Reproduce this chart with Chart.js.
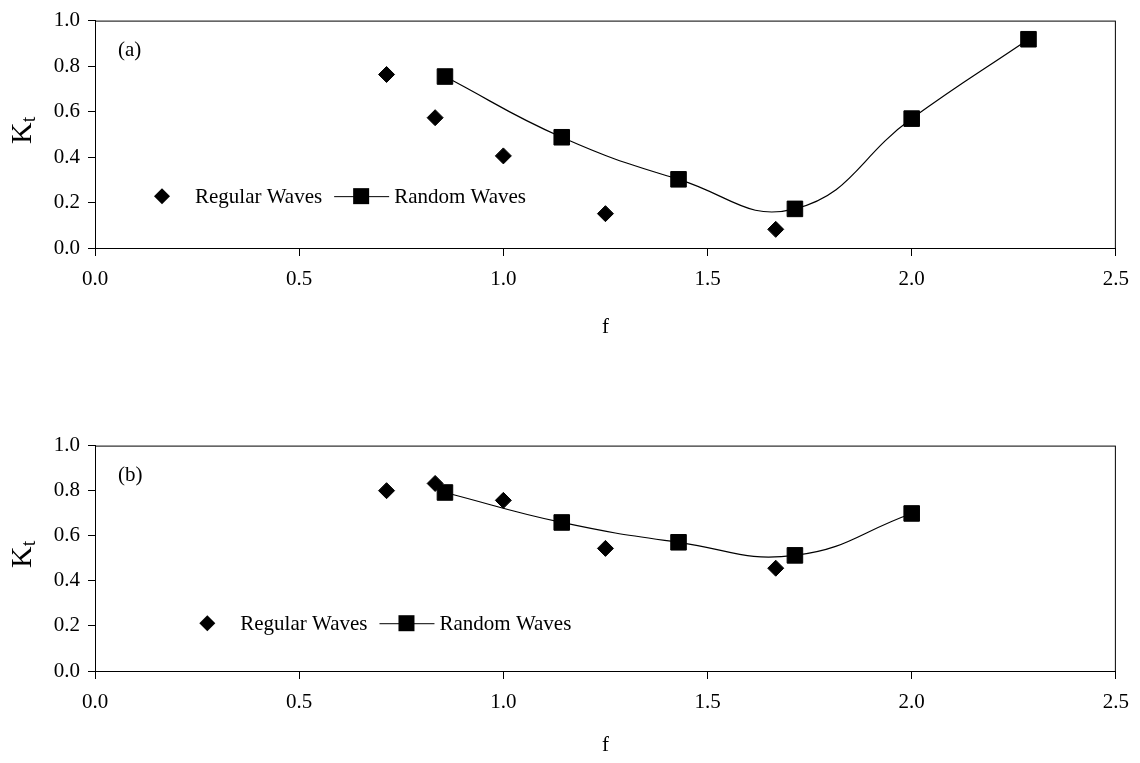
<!DOCTYPE html>
<html>
<head>
<meta charset="utf-8">
<script src="https://cdn.jsdelivr.net/npm/chart.js@4.4.1/dist/chart.umd.min.js"></script>
<style>
  html, body { margin: 0; padding: 0; background: #fff; }
  body { width: 1140px; height: 763px; position: relative; overflow: hidden; }
  .box { position: absolute; left: 0; width: 1140px; }
</style>
</head>
<body>
<div class="box" style="top:0;height:345px"><canvas id="chartA"></canvas></div>
<div class="box" style="top:425px;height:338px"><canvas id="chartB"></canvas></div>
<script>
// axis ticks
const xTicks = [0.0, 0.5, 1.0, 1.5, 2.0, 2.5];
const yTicks = [0.0, 0.2, 0.4, 0.6, 0.8, 1.0];

// panel (a)
const regularF_a = [0.714, 0.833, 1.0, 1.25, 1.667];
const regularKt_a = [0.763, 0.573, 0.405, 0.151, 0.082];
const randomF_a = [0.857, 1.143, 1.429, 1.714, 2.0, 2.286];
const randomKt_a = [0.754, 0.487, 0.302, 0.172, 0.569, 0.918];

// panel (b)
const regularF_b = [0.714, 0.833, 1.0, 1.25, 1.667];
const regularKt_b = [0.800, 0.832, 0.757, 0.544, 0.456];
const randomF_b = [0.857, 1.143, 1.429, 1.714, 2.0];
const randomKt_b = [0.792, 0.659, 0.571, 0.513, 0.699];

const SERIF = '"Liberation Serif", "Times New Roman", serif';

function pts(xs, ys) {
  return xs.map((x, i) => ({ x: x, y: ys[i] }));
}

function diamond(ctx, x, y, r) {
  ctx.beginPath();
  ctx.moveTo(x - r, y);
  ctx.lineTo(x, y - r);
  ctx.lineTo(x + r, y);
  ctx.lineTo(x, y + r);
  ctx.closePath();
  ctx.fill();
}

// frame, panel letter, K_t title and legend
const extras = {
  id: 'extras',
  afterDraw(chart, args, opts) {
    const ctx = chart.ctx;
    const a = chart.chartArea;
    const sx = chart.scales.x, sy = chart.scales.y;
    ctx.save();
    ctx.strokeStyle = '#000';
    ctx.lineWidth = 1;
    ctx.strokeRect(a.left + 0.5, a.top + 0.5, a.right - a.left - 1, a.bottom - a.top);

    ctx.fillStyle = '#000';
    ctx.textBaseline = 'middle';
    ctx.textAlign = 'left';
    ctx.font = '21px ' + SERIF;
    ctx.fillText(opts.panel, a.left + 23, a.top + 30);

    // y title K_t
    ctx.save();
    ctx.translate(23, (a.top + a.bottom) / 2 - 4);
    ctx.rotate(-Math.PI / 2);
    ctx.font = '30px ' + SERIF;
    const kw = ctx.measureText('K').width;
    ctx.font = '20px ' + SERIF;
    const tw = ctx.measureText('t').width;
    const x0 = -(kw + tw) / 2;
    ctx.font = '30px ' + SERIF;
    ctx.fillText('K', x0, 0);
    ctx.font = '20px ' + SERIF;
    ctx.fillText('t', x0 + kw, 7);
    ctx.restore();

    // legend
    const lx = sx.getPixelForValue(opts.legendAt[0]);
    const ly = sy.getPixelForValue(opts.legendAt[1]);
    diamond(ctx, lx, ly, 8);
    ctx.font = '21px ' + SERIF;
    const t1 = 'Regular Waves';
    ctx.fillText(t1, lx + 33, ly + 1);
    const l0 = lx + 33 + ctx.measureText(t1).width + 12;
    const sq = l0 + 27;
    const l1 = sq + 28;
    ctx.beginPath();
    ctx.moveTo(l0, ly + 0.5);
    ctx.lineTo(l1, ly + 0.5);
    ctx.stroke();
    ctx.fillRect(sq - 8, ly - 8, 16, 16);
    ctx.fillText('Random Waves', l1 + 5, ly + 1);
    ctx.restore();
  }
};

function makeChart(id, regF, regK, ranF, ranK, panel, legendAt, padTop, xAxisH) {
  const c = document.getElementById(id).getContext('2d');
  return new Chart(c, {
    type: 'scatter',
    data: {
      datasets: [{
        label: 'Regular Waves',
        data: pts(regF, regK),
        showLine: false,
        pointStyle: 'rectRot',
        pointRadius: 8,
        pointHoverRadius: 8,
        backgroundColor: '#000',
        borderColor: '#000',
        borderWidth: 1
      }, {
        label: 'Random Waves',
        data: pts(ranF, ranK),
        showLine: true,
        tension: 0.45,
        borderColor: '#000',
        borderWidth: 1.2,
        pointStyle: 'rect',
        pointRadius: 11,
        pointHoverRadius: 11,
        pointBackgroundColor: '#000',
        pointBorderColor: '#000',
        pointBorderWidth: 1
      }]
    },
    options: {
      responsive: true,
      maintainAspectRatio: false,
      animation: false,
      layout: { padding: { top: padTop, right: 23, left: 0, bottom: 0 } },
      plugins: {
        legend: { display: false },
        tooltip: { enabled: false },
        extras: { panel: panel, legendAt: legendAt }
      },
      scales: {
        x: {
          type: 'linear',
          min: xTicks[0],
          max: xTicks[xTicks.length - 1],
          afterBuildTicks: s => { s.ticks = xTicks.map(v => ({ value: v })); },
          afterFit: s => { s.height = xAxisH; },
          ticks: {
            color: '#000',
            font: { family: SERIF, size: 21 },
            padding: 11,
            maxRotation: 0,
            callback: v => v.toFixed(1)
          },
          grid: { drawOnChartArea: false, tickLength: 8, color: '#000' },
          border: { color: '#000', width: 1 },
          title: {
            display: true,
            text: 'f',
            color: '#000',
            font: { family: SERIF, size: 21 },
            padding: { top: 0, bottom: 5 }
          }
        },
        y: {
          type: 'linear',
          min: yTicks[0],
          max: yTicks[yTicks.length - 1],
          afterBuildTicks: s => { s.ticks = yTicks.map(v => ({ value: v })); },
          afterFit: s => { s.width = 95; },
          ticks: {
            color: '#000',
            font: { family: SERIF, size: 21 },
            padding: 8,
            callback: v => v.toFixed(1)
          },
          grid: { drawOnChartArea: false, tickLength: 7, color: '#000' },
          border: { color: '#000', width: 1 }
        }
      }
    },
    plugins: [extras]
  });
}

makeChart('chartA', regularF_a, regularKt_a, randomF_a, randomKt_a, '(a)', [0.164, 0.228], 16, 97);
makeChart('chartB', regularF_b, regularKt_b, randomF_b, randomKt_b, '(b)', [0.275, 0.212], 20, 92);
</script>
</body>
</html>
